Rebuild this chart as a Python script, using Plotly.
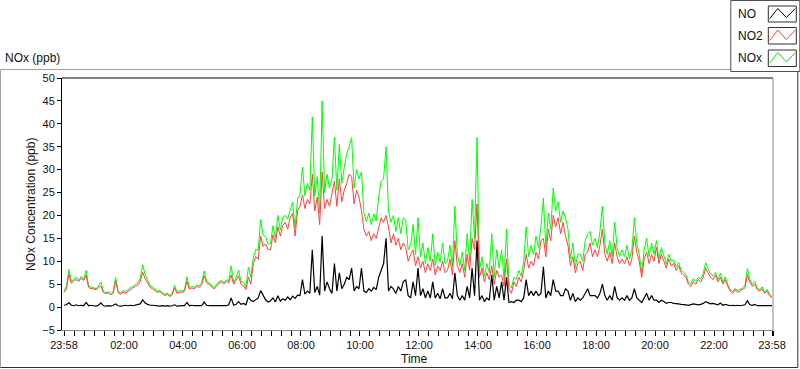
import pandas as pd
import plotly.graph_objects as go

# ---------------- data (5-minute samples, 23:58 -> 23:58 next day) ----------------
start_time = "2024-01-01 23:58"
step_minutes = 5

no2_ppb = [
    3.2, 4.0, 7.2, 5.2, 5.8, 6.0, 5.6, 6.3, 5.8, 7.0, 4.3, 4.0,
    4.0, 3.8, 4.2, 4.6, 3.2, 2.9, 3.1, 2.7, 3.0, 5.8, 3.2, 2.8,
    3.3, 3.0, 3.4, 3.9, 4.2, 4.5, 4.8, 5.5, 7.6, 6.2, 5.2, 4.3,
    4.0, 3.6, 3.2, 3.4, 2.9, 2.5, 2.8, 2.3, 2.7, 4.2, 3.0, 3.3,
    3.2, 3.5, 5.6, 3.9, 4.2, 4.0, 4.5, 4.3, 4.9, 6.8, 5.3, 5.0,
    4.4, 4.0, 4.5, 5.2, 5.5, 5.0, 5.6, 5.3, 7.0, 5.0, 5.8, 6.8,
    5.0, 4.6, 3.8, 6.5, 5.0, 9.5, 11.0, 10.4, 15.5, 13.2, 13.8, 12.6,
    12.5, 15.8, 14.0, 17.5, 15.5, 17.8, 18.5, 17.0, 19.5, 20.5, 15.5, 21.0,
    22.0, 24.5, 21.5, 23.5, 22.5, 29.0, 21.0, 24.0, 18.0, 29.5, 21.5, 23.5,
    22.0, 25.0, 27.5, 22.0, 28.0, 23.0, 25.5, 27.0, 29.0, 28.5, 22.5, 25.5,
    24.0, 21.0, 17.0, 15.5, 16.5, 14.5, 16.0, 15.0, 17.5, 19.5, 18.5, 20.0,
    17.5, 14.0, 16.0, 13.5, 15.0, 12.5, 14.0, 13.0, 10.0, 11.5, 12.5, 9.0,
    11.0, 8.5, 10.0, 7.5, 9.5, 8.0, 10.5, 7.0, 9.0, 8.0, 10.0, 7.5,
    8.0, 10.5, 7.0, 14.5, 9.0, 7.5, 9.5, 6.5, 11.5, 8.0, 15.0, 12.5,
    22.5, 6.5, 8.5, 5.5, 7.5, 6.0, 9.0, 5.0, 8.0, 6.5, 7.0, 4.5,
    10.5, 4.0, 3.0, 5.5, 4.5, 6.5, 5.5, 8.0, 11.5, 8.5, 10.0, 9.0,
    12.0, 10.5, 14.5, 15.0, 11.0, 17.0, 14.5, 20.0, 17.5, 19.5, 16.0, 18.5,
    15.5, 13.5, 9.0, 11.0, 7.5, 9.5, 10.0, 8.0, 11.5, 12.0, 14.0, 11.0,
    12.5, 11.0, 13.5, 17.0, 11.5, 10.0, 12.0, 9.5, 14.0, 11.0, 9.5, 10.5,
    9.5, 11.0, 9.0, 10.5, 15.5, 12.0, 10.0, 6.5, 10.5, 12.0, 9.5, 11.5,
    10.0, 13.0, 9.5, 11.5, 10.0, 8.5, 10.5, 9.0, 9.5, 8.0, 9.0, 7.5,
    7.0, 6.5, 5.0, 4.5, 5.5, 5.0, 6.0, 5.5, 6.5, 8.5, 7.5, 6.5,
    6.0, 7.0, 5.5, 6.5, 5.0, 6.0, 4.5, 3.5, 3.0, 3.8, 3.2, 3.6,
    3.8, 4.2, 7.0, 5.5, 4.5, 5.0, 3.8, 3.5, 4.0, 3.0, 3.5, 2.5, 2.0,
]

no_ppb = [
    0.4, 0.5, 1.0, 0.4, 0.3, 0.5, 0.3, 0.4, 0.3, 1.0, 0.3, 0.4,
    0.3, 0.2, 0.4, 0.9, 0.3, 0.2, 0.3, 0.2, 0.4, 0.7, 0.3, 0.2,
    0.3, 0.4, 0.3, 0.4, 0.3, 0.4, 0.6, 0.7, 1.6, 0.9, 0.6, 0.4,
    0.4, 0.3, 0.3, 0.2, 0.3, 0.2, 0.3, 0.2, 0.3, 0.5, 0.2, 0.3,
    0.3, 0.3, 1.0, 0.3, 0.4, 0.3, 0.3, 0.4, 0.3, 1.1, 0.4, 0.3,
    0.3, 0.3, 0.4, 0.4, 0.3, 0.4, 0.3, 0.5, 2.0, 0.4, 0.6, 1.2,
    0.6, 0.8, 0.5, 2.2, 1.5, 1.2, 1.6, 2.0, 3.6, 2.4, 1.6, 1.1,
    1.4, 2.0, 1.1, 2.5, 1.3, 1.8, 1.5, 2.2, 1.6, 2.4, 1.9, 2.6,
    2.5, 6.0, 2.8, 3.5, 3.0, 12.5, 3.2, 4.5, 2.6, 15.5, 3.5, 5.5,
    4.0, 3.0, 9.5, 3.5, 7.5, 4.0, 5.0, 6.5, 6.0, 8.5, 3.5, 4.5,
    4.0, 8.5, 3.5, 3.2, 4.0, 3.5, 4.3, 3.8, 6.5, 8.0, 9.5, 15.0,
    3.5, 4.5, 4.0, 3.0, 4.5, 3.5, 5.5, 6.0, 2.5, 2.0, 5.5, 2.5,
    8.5, 2.5, 4.0, 2.0, 3.5, 2.0, 5.5, 2.0, 3.0, 1.8, 4.0, 2.0,
    2.0, 3.0, 1.8, 7.5, 2.5, 1.5, 2.5, 1.5, 4.5, 2.0, 8.5, 2.5,
    14.5, 1.5, 2.5, 1.2, 2.0, 1.5, 7.0, 1.5, 4.5, 2.0, 5.5, 1.5,
    6.5, 1.0, 1.2, 1.0, 1.5, 1.5, 1.2, 2.0, 6.0, 2.5, 3.5, 2.5,
    3.5, 2.5, 3.0, 8.8, 2.0, 3.5, 2.5, 6.0, 3.5, 3.5, 2.5, 2.5,
    4.0, 3.5, 1.5, 3.0, 1.2, 2.0, 1.5, 2.0, 3.0, 4.0, 2.5, 2.5,
    2.5, 2.0, 3.0, 5.0, 2.5, 1.5, 2.5, 1.5, 4.5, 2.0, 1.5, 2.0,
    1.5, 2.5, 1.5, 2.0, 4.0, 2.0, 1.5, 1.0, 2.0, 3.0, 1.5, 2.5,
    1.5, 1.5, 1.0, 1.5, 1.2, 0.8, 1.0, 1.0, 0.8, 0.8, 0.7, 0.6,
    0.6, 0.5, 0.4, 0.5, 0.7, 0.6, 0.5, 0.6, 0.8, 1.2, 0.9, 0.7,
    0.8, 0.6, 0.5, 0.9, 0.4, 0.6, 0.4, 0.3, 0.4, 0.3, 0.4, 0.3,
    0.4, 0.5, 1.4, 0.5, 0.4, 0.6, 0.3, 0.3, 0.4, 0.3, 0.4, 0.3, 0.3,
]

nox_ppb = [
    3.6, 4.5, 8.2, 5.6, 6.1, 6.5, 5.9, 6.7, 6.1, 8.0, 4.6, 4.4,
    4.3, 4.0, 4.6, 5.5, 3.5, 3.1, 3.4, 2.9, 3.4, 6.5, 3.5, 3.0,
    3.6, 3.4, 3.7, 4.3, 4.5, 4.9, 5.4, 6.2, 9.2, 7.1, 5.8, 4.7,
    4.4, 3.9, 3.5, 3.6, 3.2, 2.7, 3.1, 2.5, 3.0, 4.7, 3.2, 3.6,
    3.5, 3.8, 6.6, 4.2, 4.6, 4.3, 4.8, 4.7, 5.2, 7.9, 5.7, 5.3,
    4.7, 4.3, 4.9, 5.6, 5.8, 5.4, 5.9, 5.8, 9.0, 5.4, 6.4, 8.0,
    5.6, 5.4, 4.3, 8.7, 6.5, 10.7, 12.6, 12.4, 19.1, 15.6, 15.4, 13.7,
    13.9, 17.8, 15.1, 20.0, 16.8, 19.6, 20.0, 19.2, 21.1, 22.9, 17.4, 23.6,
    24.5, 30.5, 24.3, 27.0, 25.5, 41.5, 24.2, 28.5, 20.6, 45.0, 25.0, 29.0,
    26.0, 28.0, 37.0, 25.5, 35.5, 27.0, 30.5, 33.5, 35.0, 37.0, 26.0, 30.0,
    28.0, 29.5, 20.5, 18.7, 20.5, 18.0, 20.3, 18.8, 24.0, 27.5, 28.0, 35.0,
    21.0, 18.5, 20.0, 16.5, 19.5, 16.0, 19.5, 19.0, 12.5, 13.5, 18.0, 11.5,
    19.5, 11.0, 14.0, 9.5, 13.0, 10.0, 16.0, 9.0, 12.0, 9.8, 14.0, 9.5,
    10.0, 13.5, 8.8, 22.0, 11.5, 9.0, 12.0, 8.0, 16.0, 10.0, 23.5, 15.0,
    37.0, 8.0, 11.0, 6.7, 9.5, 7.5, 16.0, 6.5, 12.5, 8.5, 12.5, 6.0,
    17.0, 5.0, 4.2, 6.5, 6.0, 8.0, 6.7, 10.0, 17.5, 11.0, 13.5, 11.5,
    15.5, 13.0, 17.5, 23.8, 13.0, 20.5, 17.0, 26.0, 21.0, 23.0, 18.5, 21.0,
    19.5, 17.0, 10.5, 14.0, 8.7, 11.5, 11.5, 10.0, 14.5, 16.0, 16.5, 13.5,
    15.0, 13.0, 16.5, 22.0, 14.0, 11.5, 14.5, 11.0, 18.5, 13.0, 11.0, 12.5,
    11.0, 13.5, 10.5, 12.5, 19.5, 14.0, 11.5, 7.5, 12.5, 15.0, 11.0, 14.0,
    11.5, 14.5, 10.5, 13.0, 11.2, 9.3, 11.5, 10.0, 10.3, 8.8, 9.7, 8.1,
    7.6, 7.0, 5.4, 5.0, 6.2, 5.6, 6.5, 6.1, 7.3, 9.7, 8.4, 7.2,
    6.8, 7.6, 6.0, 7.4, 5.4, 6.6, 4.9, 3.8, 3.4, 4.1, 3.6, 3.9,
    4.2, 4.7, 8.4, 6.0, 4.9, 5.6, 4.1, 3.8, 4.4, 3.3, 3.9, 2.8, 2.3,
]

x_tick_times = ["2024-01-01 23:58", "2024-01-02 02:00", "2024-01-02 04:00",
                "2024-01-02 06:00", "2024-01-02 08:00", "2024-01-02 10:00",
                "2024-01-02 12:00", "2024-01-02 14:00", "2024-01-02 16:00",
                "2024-01-02 18:00", "2024-01-02 20:00", "2024-01-02 22:00",
                "2024-01-02 23:58"]
x_tick_labels = ["23:58", "02:00", "04:00", "06:00", "08:00", "10:00", "12:00",
                 "14:00", "16:00", "18:00", "20:00", "22:00", "23:58"]
y_tick_values = [-5, 0, 5, 10, 15, 20, 25, 30, 35, 40, 45, 50]

series_names = ["NO", "NO2", "NOx"]

assert len(no2_ppb) == len(no_ppb) == len(nox_ppb) == 289

times = pd.date_range(start_time, periods=len(no2_ppb), freq=f"{step_minutes}min")

# ---------------- layout helpers (pixel -> paper) ----------------
W_FIG, H_FIG = 800, 369
L, T, R, B = 62, 78, 772.7, 330
PW, PH = R - L, B - T

def fx(px):
    return (px - L) / PW

def fy(py):
    return (B - py) / PH

FONT = "Liberation Sans, Arial, sans-serif"
TXT = "#111111"

fig = go.Figure()
fig.add_trace(go.Scatter(x=times, y=nox_ppb, mode="lines", name=series_names[2],
                         line=dict(color="#00ff00", width=1), showlegend=False))
fig.add_trace(go.Scatter(x=times, y=no2_ppb, mode="lines", name=series_names[1],
                         line=dict(color="#ff4040", width=1), showlegend=False))
fig.add_trace(go.Scatter(x=times, y=no_ppb, mode="lines", name=series_names[0],
                         line=dict(color="#000000", width=1.2), showlegend=False))

x_start = pd.Timestamp(start_time) - pd.Timedelta(minutes=4.07)
x_end = times[-1] + pd.Timedelta(minutes=2.0)

fig.update_xaxes(
    type="date", range=[x_start, x_end],
    tickmode="array", tickvals=list(pd.to_datetime(x_tick_times)), ticktext=x_tick_labels,
    ticks="outside", ticklen=5, tickcolor="#000000", tickwidth=1,
    showline=True, linecolor="#8a8a8a", linewidth=1,
    showgrid=False, zeroline=False,
    tickfont=dict(family=FONT, size=11, color=TXT),
    minor=dict(tickmode="linear", tick0="2024-01-02 00:00", dtick=20 * 60 * 1000,
               ticks="outside", ticklen=5, tickcolor="#000000", showgrid=False),
)
fig.update_yaxes(
    range=[-5, 50], tickmode="array", tickvals=y_tick_values,
    ticks="outside", ticklen=4, tickcolor="#000000",
    showline=True, linecolor="#000000", linewidth=1,
    showgrid=False, zeroline=False,
    tickfont=dict(family=FONT, size=11, color=TXT),
)

shapes = []
def line(x0, y0, x1, y1, color, width=1):
    shapes.append(dict(type="line", xref="paper", yref="paper",
                       x0=fx(x0), y0=fy(y0), x1=fx(x1), y1=fy(y1),
                       line=dict(color=color, width=width)))

# outer panel border
line(0.5, 69.5, 797.5, 69.5, "#a0a0a0")
line(0.5, 69.5, 0.5, 367.5, "#a0a0a0")
line(0.5, 367.5, 797.5, 367.5, "#303030")
line(797.5, 69.5, 797.5, 367.5, "#303030")
# plot frame (top black, right gray)
line(L, T, R, T, "#000000")
line(R, T, R, B, "#8a8a8a")

# legend box
shapes.append(dict(type="rect", xref="paper", yref="paper",
                   x0=fx(730.5), x1=fx(799.5), y0=fy(0.5), y1=fy(71.5),
                   fillcolor="white", line=dict(color="#505050", width=1)))
legend_colors = ["#000000", "#ff4040", "#00ff00"]
legend_rows = [(6, 22), (27.5, 44), (50, 66.5)]
for (top, bot), col in zip(legend_rows, legend_colors):
    shapes.append(dict(type="rect", xref="paper", yref="paper",
                       x0=fx(768), x1=fx(796), y0=fy(top), y1=fy(bot),
                       fillcolor="white", line=dict(color="#303030", width=1)))
    pts = [(769.5, bot - 3.5), (777.5, top + 2.5), (786, bot - 4.5), (795, top + 2.5)]
    path = "M " + " L ".join(f"{fx(a):.5f},{fy(b):.5f}" for a, b in pts)
    shapes.append(dict(type="path", xref="paper", yref="paper", path=path,
                       line=dict(color=col, width=1)))

annotations = [
    dict(text="NOx (ppb)", x=fx(3), y=fy(58), xanchor="left", yanchor="middle",
         font=dict(family=FONT, size=12, color=TXT)),
    dict(text="NOx Concentration (ppb)", x=fx(31), y=fy(204), textangle=-90,
         xanchor="center", yanchor="middle", font=dict(family=FONT, size=12, color=TXT)),
    dict(text="Time", x=fx(414), y=fy(359), xanchor="center", yanchor="middle",
         font=dict(family=FONT, size=12, color=TXT)),
]
for name, (top, bot) in zip(series_names, legend_rows):
    annotations.append(dict(text=name, x=fx(736), y=fy((top + bot) / 2),
                            xanchor="left", yanchor="middle",
                            font=dict(family=FONT, size=12, color=TXT)))
for a in annotations:
    a.update(xref="paper", yref="paper", showarrow=False)

fig.update_layout(
    width=W_FIG, height=H_FIG,
    margin=dict(l=L, r=W_FIG - R, t=T, b=H_FIG - B, pad=0),
    paper_bgcolor="white", plot_bgcolor="white",
    shapes=shapes, annotations=annotations, showlegend=False,
)

fig.write_html("out.html", config={"displayModeBar": False},
               post_script="document.body.style.margin='0';document.body.style.overflow='hidden';")
